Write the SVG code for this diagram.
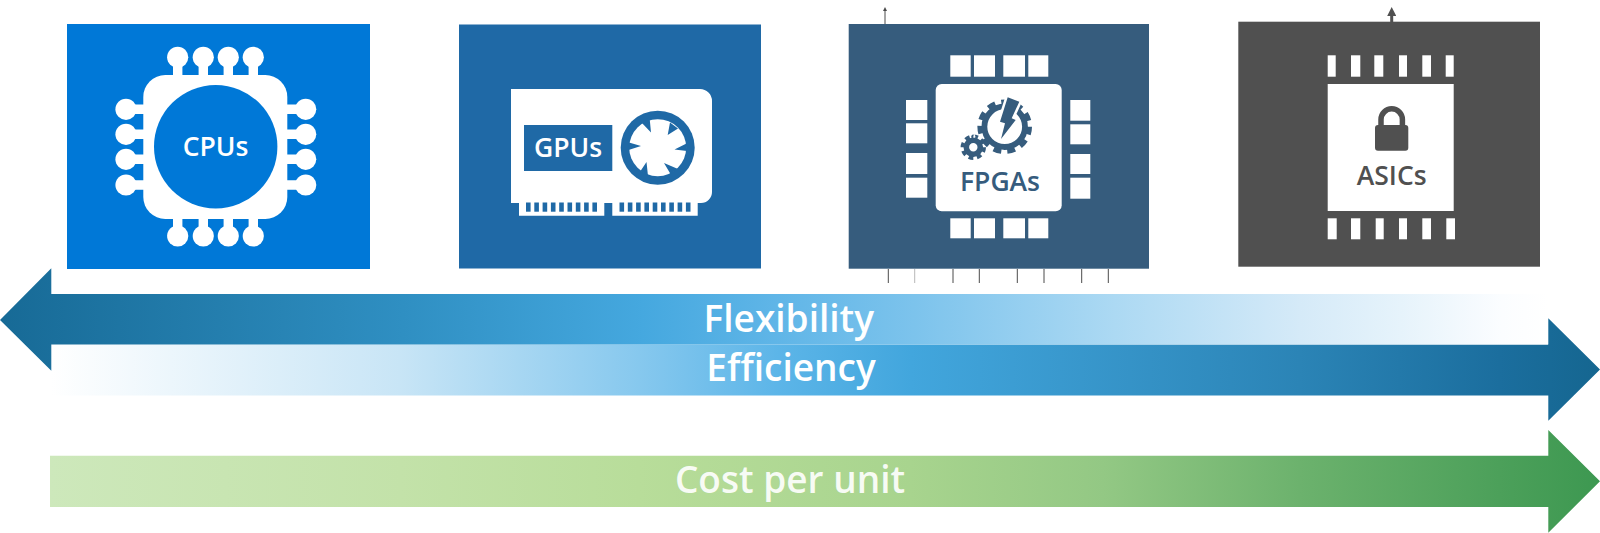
<svg xmlns="http://www.w3.org/2000/svg" width="1600" height="533" viewBox="0 0 1600 533">
<style>
text{font-family:"Open Sans","Noto Sans","Liberation Sans",sans-serif;font-weight:600;text-anchor:middle}
.chip{font-size:26.5px}
.bar{font-size:37px;fill:#fff}
.w{fill:#fff}
.stem{stroke:#fff;stroke-width:9.4;fill:none}
.tick{stroke:#4a4a4a;stroke-width:1;fill:none}
</style>
<defs>
<linearGradient id="gFlex" gradientUnits="userSpaceOnUse" x1="0" y1="0" x2="1548" y2="0">
<stop offset="0" stop-color="#176a96"/><stop offset=".26" stop-color="#2f8fc2"/><stop offset=".415" stop-color="#45a8df"/><stop offset=".5" stop-color="#5fb5e7"/><stop offset=".59" stop-color="#7cc3ec"/><stop offset=".72" stop-color="#acd9f3"/><stop offset=".84" stop-color="#d5eaf8"/><stop offset=".905" stop-color="#e6f3fb"/><stop offset=".97" stop-color="#fbfdff"/><stop offset="1" stop-color="#fff"/>
</linearGradient>
<linearGradient id="gEff" gradientUnits="userSpaceOnUse" x1="51" y1="0" x2="1600" y2="0">
<stop offset="0" stop-color="#fff"/><stop offset=".225" stop-color="#c8e5f6"/><stop offset=".38" stop-color="#86c8ee"/><stop offset=".47" stop-color="#5cb5e8"/><stop offset=".555" stop-color="#42a6dd"/><stop offset=".806" stop-color="#2b84b6"/><stop offset=".935" stop-color="#1b6e9e"/><stop offset="1" stop-color="#156690"/>
</linearGradient>
<linearGradient id="gCost" gradientUnits="userSpaceOnUse" x1="50" y1="0" x2="1600" y2="0">
<stop offset="0" stop-color="#cde8bb"/><stop offset=".226" stop-color="#c3e2a9"/><stop offset=".38" stop-color="#b8dd9a"/><stop offset=".555" stop-color="#a8d48e"/><stop offset=".68" stop-color="#93c884"/><stop offset=".806" stop-color="#6cb26d"/><stop offset=".935" stop-color="#4ca05a"/><stop offset="1" stop-color="#3d9851"/>
</linearGradient>
<marker id="upS" markerWidth="4" markerHeight="4" refX="2" refY="3.5" orient="0" markerUnits="userSpaceOnUse"><path d="M0,4 L2,0 L4,4 Z" fill="#4a4a4a"/></marker>
<marker id="upL" markerWidth="9" markerHeight="9" refX="4.5" refY="8.5" orient="0" markerUnits="userSpaceOnUse"><path d="M0,9 L4.5,0 L9,9 Z" fill="#505050"/></marker>
</defs>
<rect width="1600" height="533" fill="#fff"/>

<g id="cpu">
<rect x="67" y="24" width="303" height="245" fill="#0078d7"/>
<g class="w">
<circle cx="177.7" cy="57.3" r="10.6"/><circle cx="203.3" cy="57.3" r="10.6"/><circle cx="228.3" cy="57.3" r="10.6"/><circle cx="253.3" cy="57.3" r="10.6"/>
<circle cx="177.7" cy="236" r="10.6"/><circle cx="203.3" cy="236" r="10.6"/><circle cx="228.3" cy="236" r="10.6"/><circle cx="253.3" cy="236" r="10.6"/>
<circle cx="126" cy="109.3" r="10.6"/><circle cx="126" cy="134.3" r="10.6"/><circle cx="126" cy="159.3" r="10.6"/><circle cx="126" cy="185" r="10.6"/>
<circle cx="305.7" cy="109.3" r="10.6"/><circle cx="305.7" cy="134.3" r="10.6"/><circle cx="305.7" cy="159.3" r="10.6"/><circle cx="305.7" cy="185" r="10.6"/>
</g>
<path class="stem" d="M177.7,57V80M203.3,57V80M228.3,57V80M253.3,57V80M177.7,214V236M203.3,214V236M228.3,214V236M253.3,214V236M126,109.3H148M126,134.3H148M126,159.3H148M126,185H148M283,109.3H305.7M283,134.3H305.7M283,159.3H305.7M283,185H305.7"/>
<rect x="143.3" y="75" width="144" height="144" rx="22" class="w"/>
<circle cx="215.7" cy="146.7" r="61.7" fill="#0078d7"/>
<text class="chip" x="215.5" y="155.5" fill="#fff">CPUs</text>
</g>

<g id="gpu">
<rect x="459" y="24.5" width="302" height="244" fill="#1f69a6"/>
<path class="w" d="M511,89H700a12,12 0 0 1 12,12V192a11,11 0 0 1 -11,11H697.7V215.7H612.3V203H604.3V215.7H519V203H511Z"/>
<g fill="#1f69a6">
<rect x="526" y="202.5" width="4.6" height="9.2"/><rect x="534.3" y="202.5" width="4.6" height="9.2"/><rect x="542.6" y="202.5" width="4.6" height="9.2"/><rect x="550.9" y="202.5" width="4.6" height="9.2"/><rect x="559.2" y="202.5" width="4.6" height="9.2"/><rect x="567.5" y="202.5" width="4.6" height="9.2"/><rect x="575.8" y="202.5" width="4.6" height="9.2"/><rect x="584.1" y="202.5" width="4.6" height="9.2"/><rect x="592.4" y="202.5" width="4.6" height="9.2"/>
<rect x="619.5" y="202.5" width="4.6" height="9.2"/><rect x="627.8" y="202.5" width="4.6" height="9.2"/><rect x="636.1" y="202.5" width="4.6" height="9.2"/><rect x="644.4" y="202.5" width="4.6" height="9.2"/><rect x="652.7" y="202.5" width="4.6" height="9.2"/><rect x="661" y="202.5" width="4.6" height="9.2"/><rect x="669.3" y="202.5" width="4.6" height="9.2"/><rect x="677.6" y="202.5" width="4.6" height="9.2"/><rect x="685.9" y="202.5" width="4.6" height="9.2"/>
<rect x="524" y="125" width="88.3" height="46"/>
<circle cx="657.7" cy="147.7" r="37"/>
</g>
<circle class="w" cx="657.7" cy="147.7" r="28.5"/>
<path fill="#1f69a6" d="M649.5,117L641.5,122.5L651,132.5ZM670,122.5L678,128.5L667.7,135ZM686.5,143.5L687,151L674.5,149.5ZM678,169L670.5,174L664,163ZM648,176L640.5,171L646.5,162ZM629,142.5L628.5,150L641,146Z"/>
<text class="chip" x="568" y="157" fill="#fff">GPUs</text>
</g>

<g id="fpga">
<rect x="848.7" y="24" width="300.3" height="244.7" fill="#365c7d"/>
<rect class="w" x="935.7" y="84" width="126" height="127.3" rx="6"/>
<g class="w">
<rect x="950.3" y="55.3" width="20.4" height="21.4"/><rect x="974" y="55.3" width="21" height="21.4"/><rect x="1003.3" y="55.3" width="21.7" height="21.4"/><rect x="1028.3" y="55.3" width="20" height="21.4"/>
<rect x="950.3" y="218.3" width="20.4" height="20"/><rect x="974" y="218.3" width="21" height="20"/><rect x="1003.3" y="218.3" width="21.7" height="20"/><rect x="1028.3" y="218.3" width="20" height="20"/>
<rect x="906" y="100" width="21.3" height="20"/><rect x="906" y="123.3" width="21.3" height="20"/><rect x="906" y="153" width="21.3" height="21"/><rect x="906" y="177.7" width="21.3" height="20"/>
<rect x="1070.3" y="100" width="20" height="20.7"/><rect x="1070.3" y="124.3" width="20" height="20"/><rect x="1070.3" y="154" width="20" height="20"/><rect x="1070.3" y="177.7" width="20" height="21"/>
</g>
<g fill="none" stroke="#365c7d">
<circle cx="973.3" cy="147.3" r="7" stroke-width="5.6"/>
<circle cx="973.3" cy="147.3" r="10.6" stroke-width="4.2" pathLength="80" stroke-dasharray="5.6 4.4"/>
<circle cx="1004.7" cy="126.7" r="24.4" stroke-width="5.8" pathLength="110" stroke-dasharray="5.6 4.4"/>
<circle cx="1004.7" cy="126.7" r="20.3" stroke-width="5.8" fill="#fff"/>
</g>
<path d="M1007.7,97.3L1019.3,101.7L1011.7,118.3L1015.7,120L1001,139L1005,123.3L1000,121.7Z" fill="#365c7d" stroke="#fff" stroke-width="5" paint-order="stroke" stroke-linejoin="miter"/>
<text class="chip" x="1000" y="191" fill="#365c7d">FPGAs</text>
</g>

<g id="asic">
<rect x="1238.3" y="21.7" width="301.7" height="245" fill="#505050"/>
<rect class="w" x="1327.7" y="84" width="126" height="127"/>
<g class="w">
<rect x="1327.7" y="55.3" width="8" height="21.4"/><rect x="1351" y="55.3" width="9.3" height="21.4"/><rect x="1374.3" y="55.3" width="9" height="21.4"/><rect x="1399" y="55.3" width="8" height="21.4"/><rect x="1422.3" y="55.3" width="8.7" height="21.4"/><rect x="1445.7" y="55.3" width="8" height="21.4"/>
<rect x="1327.7" y="218.3" width="9" height="21"/><rect x="1351" y="218.3" width="9.3" height="21"/><rect x="1375.7" y="218.3" width="8" height="21"/><rect x="1399" y="218.3" width="8" height="21"/><rect x="1422.3" y="218.3" width="8.7" height="21"/><rect x="1446.3" y="218.3" width="8.7" height="21"/>
</g>
<rect x="1375" y="125" width="33.3" height="25.7" rx="3" fill="#505050"/>
<path d="M1381,126V119.5a10.7,10.7 0 0 1 21.4,0V126" fill="none" stroke="#505050" stroke-width="5.5"/>
<text class="chip" x="1391.7" y="185" fill="#505050">ASICs</text>
</g>

<g id="connectors">
<path d="M885,24V10.5" stroke="#4a4a4a" stroke-width="1" fill="none" marker-end="url(#upS)"/>
<path d="M1391.7,22V15.5" stroke="#505050" stroke-width="3" fill="none" marker-end="url(#upL)"/>
<path class="tick" d="M888.3,269V283M953,269V283M979.3,269V283M1017.3,269V283M1044,269V283M1081.7,269V283M1108.3,269V283"/>
<path class="tick" stroke-opacity=".4" d="M914.7,269V283"/>
</g>

<g id="efficiency">
<path d="M51,344.5H1548.3V318.3L1600,369.5L1548.3,420.7V395.5H51Z" fill="url(#gEff)"/>
</g>
<g id="flexibility">
<path d="M0,320L51.3,268.3V294H1548V344.5H51.3V370.7Z" fill="url(#gFlex)"/>
</g>
<g id="cost">
<path d="M50,455.7H1548.3V430L1600,481.3L1548.3,532.7V507H50Z" fill="url(#gCost)"/>
<text class="bar" x="790" y="493" fill-opacity=".92">Cost per unit</text>
</g>
<text class="bar" x="788.8" y="331.7">Flexibility</text>
<text class="bar" x="791" y="381">Efficiency</text>
</svg>
